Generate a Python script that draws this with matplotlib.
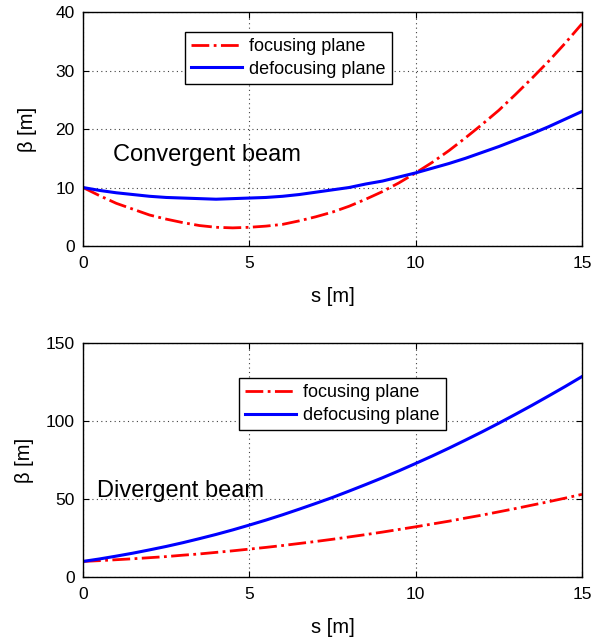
import numpy as np
import matplotlib
matplotlib.use('Agg')
import matplotlib.pyplot as plt

plt.rcParams['font.family'] = ['Liberation Sans', 'DejaVu Sans']

s = [0, 0.5, 1, 1.5, 2, 2.5, 3, 3.5, 4, 4.5, 5, 5.5, 6, 6.5, 7, 7.5,
	 8, 8.5, 9, 9.5, 10, 10.5, 11, 11.5, 12, 12.5, 13, 13.5, 14, 14.5, 15]

# convergent beam
conv_focus = [10.0, 8.6, 7.3, 6.3, 5.3, 4.6, 4.0, 3.5, 3.2, 3.1, 3.2, 3.4, 3.7, 4.3, 5.0, 5.8,
			  6.8, 8.0, 9.3, 10.8, 12.5, 14.3, 16.3, 18.5, 20.8, 23.2, 25.9, 28.7, 31.6, 34.7, 38.0]
conv_defocus = [10.0, 9.5, 9.1, 8.8, 8.5, 8.3, 8.2, 8.1, 8.0, 8.1, 8.2, 8.3, 8.5, 8.8, 9.2, 9.6,
				10.0, 10.6, 11.1, 11.8, 12.5, 13.3, 14.1, 15.0, 16.0, 17.0, 18.1, 19.2, 20.4, 21.7, 23.0]

# divergent beam
div_focus = [10.0, 10.5, 11.1, 11.7, 12.4, 13.1, 14.0, 14.8, 15.8, 16.8, 17.9, 19.0, 20.2, 21.5, 22.8, 24.2,
			 25.7, 27.2, 28.8, 30.5, 32.2, 34.0, 35.8, 37.8, 39.7, 41.8, 43.9, 46.1, 48.3, 50.6, 53.0]
div_defocus = [10.0, 11.6, 13.4, 15.3, 17.4, 19.6, 22.0, 24.6, 27.3, 30.2, 33.3, 36.5, 39.9, 43.5, 47.2, 51.0,
			   55.1, 59.3, 63.6, 68.1, 72.8, 77.6, 82.6, 87.8, 93.1, 98.6, 104.3, 110.1, 116.1, 122.2, 128.5]


def beta_panel(ax, focus, defocus, ymax, yticks, label, label_pos, leg_anchor, ylab_x):
	ax.plot(s, focus, color='red', linestyle='-.', linewidth=2.0, label='focusing plane')
	ax.plot(s, defocus, color='blue', linestyle='-', linewidth=2.2, label='defocusing plane')
	ax.set_xlim(0, 15)
	ax.set_ylim(0, ymax)
	ax.set_xticks([0, 5, 10, 15])
	ax.set_yticks(yticks)
	ax.grid(True, color='0.25', linestyle=(0, (1, 3)), linewidth=0.8)
	ax.tick_params(direction='in', labelsize=12.5, length=4, top=True, right=True)
	ax.tick_params(axis='x', pad=7)
	ax.tick_params(axis='y', pad=6)
	for sp in ax.spines.values():
		sp.set_linewidth(1.0)
	ax.set_xlabel('s [m]', fontsize=14.5, labelpad=12)
	ax.set_ylabel('β [m]', fontsize=14.5)
	ax.yaxis.set_label_coords(ylab_x, 0.5)
	ax.text(label_pos[0], label_pos[1], label, fontsize=17, va='center', ha='left')
	leg = ax.legend(loc='upper left', bbox_to_anchor=leg_anchor, fontsize=13,
					fancybox=False, framealpha=1, edgecolor='black',
					handlelength=2.8, borderpad=0.35, labelspacing=0.3, handletextpad=0.4,
					borderaxespad=0)
	leg.get_frame().set_linewidth(1.0)


fig = plt.figure(figsize=(6.08, 6.42), dpi=100)
ax1 = fig.add_axes([0.1365, 0.6168, 0.8207, 0.3645])
ax2 = fig.add_axes([0.1365, 0.1012, 0.8207, 0.3645])

beta_panel(ax1, conv_focus, conv_defocus, 40, [0, 10, 20, 30, 40],
		   'Convergent beam', (0.9, 15.5), (0.204, 0.915), -0.092)
beta_panel(ax2, div_focus, div_defocus, 150, [0, 50, 100, 150],
		   'Divergent beam', (0.42, 55), (0.313, 0.85), -0.098)

plt.savefig('out.png', dpi=100)
